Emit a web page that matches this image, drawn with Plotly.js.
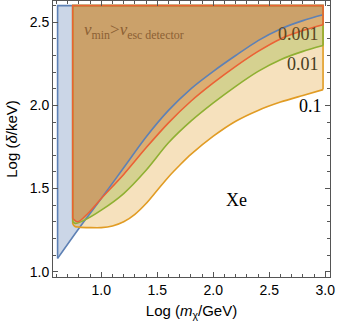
<!DOCTYPE html>
<html>
<head>
<meta charset="utf-8">
<script src="https://cdn.plot.ly/plotly-3.0.1.min.js"></script>
<style>
  html, body { margin: 0; padding: 0; background: #fff; }
  #chart { width: 337px; height: 331px; }
</style>
</head>
<body>
<div id="chart"></div>
<script>
// top of every filled region (the v_min > v_esc cut)
const yTop = 2.6;

// boundary curves
const blueX = [0.61, 0.8, 1.0, 1.2, 1.4, 1.6, 1.8, 2.0, 2.2, 2.4, 2.6, 2.8, 2.98];
const blueY = [1.08, 1.26, 1.44, 1.625, 1.81, 1.97, 2.10, 2.205, 2.30, 2.39, 2.46, 2.51, 2.545];

const redX = [0.745, 0.79, 0.88, 1.0, 1.2, 1.4, 1.6, 1.8, 2.0, 2.2, 2.4, 2.6, 2.8, 2.98];
const redY = [1.32, 1.30, 1.35, 1.44, 1.585, 1.745, 1.895, 2.025, 2.135, 2.235, 2.325, 2.40, 2.45, 2.485];

const greenX = [0.745, 0.77, 0.85, 1.0, 1.2, 1.4, 1.6, 1.8, 2.0, 2.2, 2.4, 2.6, 2.8, 2.98];
const greenY = [1.30, 1.29, 1.31, 1.37, 1.47, 1.61, 1.775, 1.905, 2.015, 2.115, 2.205, 2.275, 2.325, 2.36];

const orangeX = [0.745, 0.765, 0.8, 0.9, 1.0, 1.1, 1.2, 1.3, 1.4, 1.5, 1.6, 1.7, 1.8, 2.0, 2.2, 2.4, 2.6, 2.8, 2.98];
const orangeY = [1.287, 1.272, 1.268, 1.265, 1.265, 1.275, 1.30, 1.345, 1.41, 1.49, 1.57, 1.64, 1.705, 1.815, 1.905, 1.97, 2.02, 2.06, 2.095];

// labels
const fracLabels = ['0.001', '0.01', '0.1'];
const fracLabelX = [2.76, 2.80, 2.87];
const fracLabelY = [2.43, 2.25, 1.995];

const blue = 'rgb(94,129,181)', orange = 'rgb(225,156,36)';
const green = 'rgb(143,176,50)', red = 'rgb(235,98,53)';

// closes a curve up to the top line, so it fills the region above it
function fillRegion(xs, ys, fill) {
  const n = xs.length;
  return {
    x: [xs[0]].concat(xs, [xs[n - 1], xs[0]]),
    y: [yTop].concat(ys, [yTop, yTop]),
    mode: 'lines', fill: 'toself', fillcolor: fill,
    line: { width: 0 }, hoverinfo: 'skip', showlegend: false
  };
}

// outline: left edge + top + right edge (straight), then the curve itself (smooth)
function edges(xs, ys, color) {
  const n = xs.length;
  return {
    x: [xs[0], xs[0], xs[n - 1], xs[n - 1]],
    y: [ys[0], yTop, yTop, ys[n - 1]],
    mode: 'lines', line: { color: color, width: 1.6 },
    hoverinfo: 'skip', showlegend: false
  };
}
function curve(xs, ys, color) {
  return {
    x: xs, y: ys, mode: 'lines',
    line: { color: color, width: 1.6, shape: 'spline', smoothing: 0.8 },
    hoverinfo: 'skip', showlegend: false
  };
}

const data = [
  fillRegion(blueX, blueY, 'rgba(94,129,181,0.32)'),
  fillRegion(orangeX, orangeY, 'rgba(225,156,36,0.3)'),
  fillRegion(greenX, greenY, 'rgba(143,176,50,0.32)'),
  fillRegion(redX, redY, 'rgba(235,98,53,0.32)'),
  edges(blueX, blueY, blue), curve(blueX, blueY, blue),
  edges(orangeX, orangeY, orange), curve(orangeX, orangeY, orange),
  edges(greenX, greenY, green), curve(greenX, greenY, green),
  edges(redX, redY, red), curve(redX, redY, red)
];

const serif = 'Liberation Serif, Times New Roman, serif';
const sans = 'Liberation Sans, Arial, sans-serif';

const annotations = [
  { x: 1.29, y: 2.45, text: '<i>v</i><sub>min</sub>><i>v</i><sub>esc detector</sub>',
    font: { family: serif, size: 17, color: 'rgb(140,96,52)' } },
  { x: 2.21, y: 1.43, text: 'Xe', font: { family: serif, size: 18, color: '#000' } }
];
fracLabels.forEach(function (t, i) {
  const cols = ['rgb(90,70,30)', 'rgb(70,60,30)', '#000'];
  annotations.push({ x: fracLabelX[i], y: fracLabelY[i], text: t,
    font: { family: serif, size: 18, color: cols[i] } });
});
annotations.forEach(function (a) { a.showarrow = false; a.xref = 'x'; a.yref = 'y'; });

const axisCommon = {
  showgrid: false, zeroline: false,
  showline: true, mirror: 'ticks', linecolor: '#555', linewidth: 1,
  ticks: 'inside', ticklen: 5, tickcolor: '#555', tickwidth: 1,
  tickformat: '.1f',
  tickfont: { family: sans, size: 14, color: '#000' },
  minor: { dtick: 0.1, ticks: 'inside', ticklen: 3, tickcolor: '#555' }
};

const layout = {
  width: 337, height: 331,
  margin: { l: 53, r: 7, t: 1, b: 54 },
  paper_bgcolor: '#fff', plot_bgcolor: '#fff',
  xaxis: Object.assign({}, axisCommon, {
    range: [0.569, 3.042], dtick: 0.5, tick0: 0,
    title: { text: 'Log (<i>m</i><sub>χ</sub>/GeV)', font: { family: sans, size: 15, color: '#000' }, standoff: 8 }
  }),
  yaxis: Object.assign({}, axisCommon, {
    range: [0.968, 2.628], dtick: 0.5, tick0: 0,
    title: { text: 'Log (<i>δ</i>/keV)', font: { family: sans, size: 15, color: '#000' }, standoff: 8 }
  }),
  annotations: annotations
};

Plotly.newPlot('chart', data, layout, { staticPlot: true });
</script>
</body>
</html>
